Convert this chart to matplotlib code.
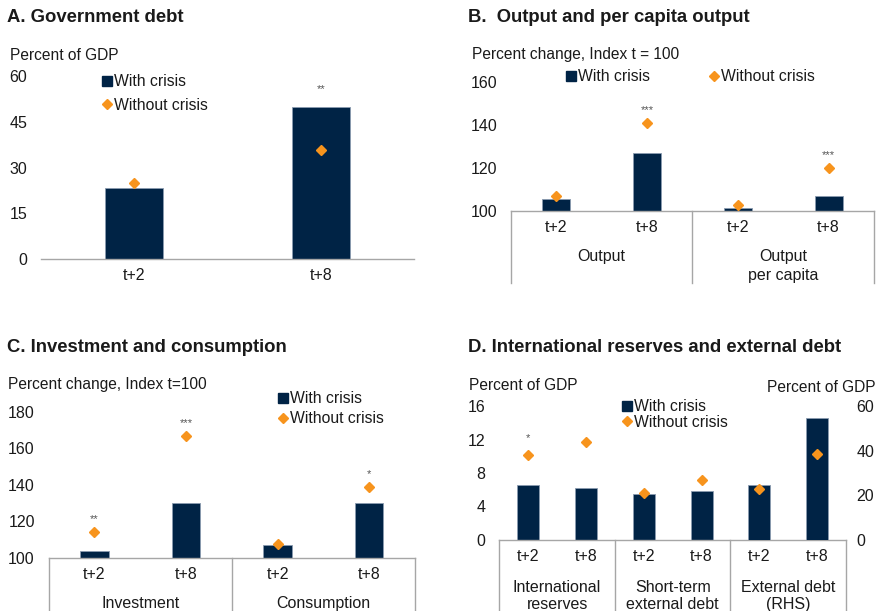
import matplotlib
matplotlib.use("Agg")
import matplotlib.pyplot as plt
from matplotlib.lines import Line2D

plt.rcParams['font.family'] = ['Liberation Sans', 'DejaVu Sans']
plt.rcParams['font.size'] = 11.5

# colours
navy = '#002345'
orange = '#F7941D'
edge = '#8A9BB0'
grey = '#A6A6A6'
txt = '#1a1a1a'
FS = 11.5
TFS = 13.3

# A. Government debt (percent of GDP)
a_cats = ['t+2', 't+8']
a_with = [23.4, 49.9]
a_without = [25.0, 35.7]
a_stars = ['', '**']

# B. Output and per capita output (index t = 100)
b_cats = ['t+2', 't+8', 't+2', 't+8']
b_groups = ['Output', 'Output\nper capita']
b_with = [105.3, 126.7, 101.1, 107.0]
b_without = [107.0, 140.6, 102.7, 120.0]
b_stars = ['', '***', '', '***']

# C. Investment and consumption (index t = 100)
c_cats = ['t+2', 't+8', 't+2', 't+8']
c_groups = ['Investment', 'Consumption']
c_with = [103.8, 129.8, 106.8, 129.8]
c_without = [113.9, 166.5, 107.5, 138.9]
c_stars = ['**', '***', '', '*']

# D. International reserves and external debt (percent of GDP)
d_cats = ['t+2', 't+8', 't+2', 't+8', 't+2', 't+8']
d_groups = ['International\nreserves', 'Short-term\nexternal debt', 'External debt\n(RHS)']
d_with_lhs = [6.53, 6.17, 5.49, 5.85]
d_without_lhs = [10.15, 11.7, 5.65, 7.16]
d_with_rhs = [24.8, 54.5]
d_without_rhs = [22.8, 38.5]
d_stars = ['*', '', '', '', '', '']

W, H = 879, 611
fig = plt.figure(figsize=(W / 100, H / 100), dpi=100)


def rect(l, r, t, b):
    return [l / W, 1 - b / H, (r - l) / W, (b - t) / H]


def ftext(x, y, s, **kw):
    kw.setdefault('color', txt)
    fig.text(x / W, 1 - y / H, s, **kw)


def style(ax, ymin, ymax, ticks, pad=10):
    ax.set_ylim(ymin, ymax)
    ax.set_yticks(ticks)
    ax.tick_params(axis='both', length=0, labelsize=FS, labelcolor=txt)
    ax.tick_params(axis='y', pad=pad)
    ax.tick_params(axis='x', pad=6.5)
    for s in ['left', 'right', 'top']:
        ax.spines[s].set_visible(False)
    ax.spines['bottom'].set_color(grey)
    ax.spines['bottom'].set_linewidth(1)
    ax.set_facecolor('none')


def draw(ax, xs, bars, dots, width):
    ax.bar(xs, bars, width=width, color=navy, edgecolor=edge, linewidth=0.6,
           bottom=0, zorder=2)
    ax.plot(xs, dots, linestyle='none', marker='D', markersize=5.5,
            color=orange, zorder=3)


def stars(ax, xs, bars, dots, marks, off=8):
    for x, b, d, m in zip(xs, bars, dots, marks):
        if m:
            ax.annotate(m, xy=(x, max(b, d)), xytext=(0, off),
                        textcoords='offset pixels', ha='center', va='bottom',
                        fontsize=8, color='#555555')


def groups(ax, n, names, ybot, dy, spacing):
    tr = ax.get_xaxis_transform()
    per = n // len(names)
    for k in range(len(names) + 1):
        x = k * per - 0.5
        ax.plot([x, x], [0, ybot], transform=tr, clip_on=False,
                color=grey, lw=1)
    for k, name in enumerate(names):
        ax.annotate(name, xy=(k * per + (per - 1) / 2, 0), xycoords=tr,
                    xytext=(0, -dy), textcoords='offset pixels',
                    ha='center', va='top', fontsize=FS, color=txt,
                    linespacing=spacing)


def legend(ax, x, y, ncol=1, labelspacing=0.6, colsp=2.0):
    h = [Line2D([], [], linestyle='none', marker='s', markersize=7,
                color=navy, label='With crisis'),
         Line2D([], [], linestyle='none', marker='D', markersize=5.5,
                color=orange, label='Without crisis')]
    ax.legend(handles=h, loc='upper left', bbox_to_anchor=(x / W, 1 - y / H),
              bbox_transform=fig.transFigure, frameon=False, ncol=ncol,
              borderpad=0, borderaxespad=0, handlelength=0.6,
              handletextpad=0.15, labelspacing=labelspacing,
              columnspacing=colsp, fontsize=11.3, labelcolor=txt)


# ---- A ----
axA = fig.add_axes(rect(41, 414, 76, 259))
xa = list(range(len(a_cats)))
draw(axA, xa, a_with, a_without, 0.31)
stars(axA, xa, a_with, a_without, a_stars, off=13)
axA.set_xlim(-0.5, len(a_cats) - 0.5)
style(axA, 0, 60, [0, 15, 30, 45, 60])
axA.set_xticks(xa)
axA.set_xticklabels(a_cats)
legend(axA, 102, 74, labelspacing=0.55)
ftext(7, 17, 'A. Government debt', fontsize=TFS, fontweight='bold',
      va='center', ha='left')
ftext(10, 55, 'Percent of GDP', fontsize=11.2, va='center')

# ---- B ----
axB = fig.add_axes(rect(511, 874, 81.7, 210.7))
xb = list(range(len(b_cats)))
draw(axB, xb, b_with, b_without, 0.31)
stars(axB, xb, b_with, b_without, b_stars)
axB.set_xlim(-0.5, len(b_cats) - 0.5)
style(axB, 100, 160, [100, 120, 140, 160])
axB.set_xticks(xb)
axB.set_xticklabels(b_cats)
groups(axB, len(b_cats), b_groups, -0.56, 38, 1.35)
legend(axB, 566, 69, ncol=2, colsp=3.8)
ftext(468, 17, 'B.  Output and per capita output', fontsize=TFS,
      fontweight='bold', va='center')
ftext(472, 55, 'Percent change, Index t = 100', fontsize=11.2, va='center')

# ---- C ----
axC = fig.add_axes(rect(48.7, 415, 411.7, 557.7))
xc = list(range(len(c_cats)))
draw(axC, xc, c_with, c_without, 0.31)
stars(axC, xc, c_with, c_without, c_stars)
axC.set_xlim(-0.5, len(c_cats) - 0.5)
style(axC, 100, 180, [100, 120, 140, 160, 180])
axC.set_xticks(xc)
axC.set_xticklabels(c_cats)
groups(axC, len(c_cats), c_groups, -0.5, 38, 1.2)
legend(axC, 278, 391, labelspacing=0.35)
ftext(7, 348, 'C. Investment and consumption', fontsize=TFS,
      fontweight='bold', va='center')
ftext(8, 385, 'Percent change, Index t=100', fontsize=11.2, va='center')

# ---- D ----
axD = fig.add_axes(rect(499.3, 846, 406, 540))
axD2 = axD.twinx()
xd = list(range(len(d_cats)))
nl = len(d_with_lhs)
draw(axD, xd[:nl], d_with_lhs, d_without_lhs, 0.38)
stars(axD, xd[:nl], d_with_lhs, d_without_lhs, d_stars[:nl], off=12)
draw(axD2, xd[nl:], d_with_rhs, d_without_rhs, 0.38)
for a in (axD, axD2):
    a.set_xlim(-0.5, len(d_cats) - 0.5)
style(axD, 0, 16, [0, 4, 8, 12, 16])
style(axD2, 0, 60, [0, 20, 40, 60], pad=7.5)
axD2.spines['bottom'].set_visible(False)
axD.set_xticks(xd)
axD.set_xticklabels(d_cats)
groups(axD, len(d_cats), d_groups, -0.6, 40, 1.15)
legend(axD2, 622, 399, labelspacing=0.05)
ftext(468, 348, 'D. International reserves and external debt', fontsize=TFS,
      fontweight='bold', va='center')
ftext(469, 385, 'Percent of GDP', fontsize=11.2, va='center')
ftext(876, 388, 'Percent of GDP', fontsize=11.2, va='center', ha='right')

fig.savefig('out.png', dpi=100, facecolor='white')
